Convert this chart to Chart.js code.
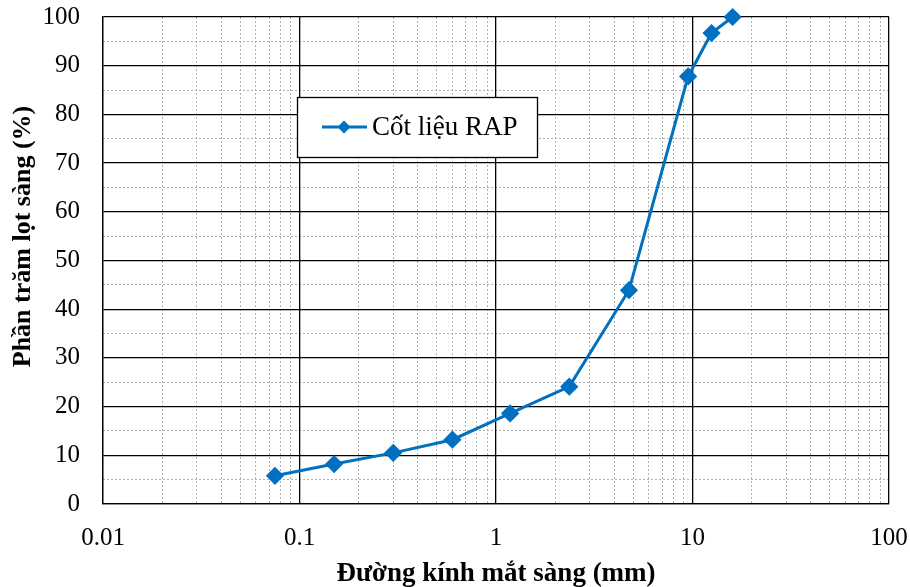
<!DOCTYPE html>
<html><head><meta charset="utf-8">
<script src="https://cdn.jsdelivr.net/npm/chart.js@4/dist/chart.umd.min.js"></script>
<style>html,body{margin:0;padding:0;background:#fff}#wrap{width:910px;height:587px}</style>
</head><body><div id="wrap"><canvas id="c" width="910" height="587"></canvas></div>
<script>
const sieveSizes = [0.075, 0.15, 0.3, 0.6, 1.18, 2.36, 4.75, 9.5, 12.5, 16];
const passingPct = [5.8, 8.2, 10.5, 13.2, 18.6, 24.1, 43.9, 87.8, 96.7, 100];
const xMajorTicks = [0.01, 0.1, 1, 10, 100];
const yMajorTicks = [0, 10, 20, 30, 40, 50, 60, 70, 80, 90, 100];
const seriesName = 'Cốt liệu RAP';
const xTitle = 'Đường kính mắt sàng (mm)';
const yTitle = 'Phần trăm lọt sàng (%)';

const xMinorTicks = [];
for (let i = 0; i < xMajorTicks.length - 1; i++) {
  for (let m = 2; m <= 9; m++) xMinorTicks.push(+(xMajorTicks[i] * m).toPrecision(6));
}
const yMinorTicks = yMajorTicks.slice(0, -1).map(v => v + 5);

const BLUE = '#0070C0';
const tickFont = {family: 'Liberation Serif', size: 25};
const titleFont = {family: 'Liberation Serif', size: 27, weight: 'bold', lineHeight: 1};

const legendBox = {
  id: 'legendBox',
  afterDatasetsDraw(chart) {
    const {ctx, chartArea: a} = chart;
    const l = a.left + 194, t = a.top + 80, w = 240, h = 60;
    ctx.save();
    ctx.fillStyle = '#fff';
    ctx.fillRect(l, t, w, h);
    ctx.strokeStyle = '#000';
    ctx.lineWidth = 1.3;
    ctx.strokeRect(l + 0.5, t + 0.5, w, h);
    const cy = t + h / 2;
    ctx.strokeStyle = BLUE; ctx.lineWidth = 3;
    ctx.beginPath(); ctx.moveTo(l + 25, cy); ctx.lineTo(l + 70, cy); ctx.stroke();
    ctx.fillStyle = BLUE;
    const mx = l + 47, r = 6.5;
    ctx.beginPath(); ctx.moveTo(mx, cy - r); ctx.lineTo(mx + r, cy); ctx.lineTo(mx, cy + r); ctx.lineTo(mx - r, cy); ctx.closePath(); ctx.fill();
    ctx.fillStyle = '#000';
    ctx.font = '27px "Liberation Serif"';
    ctx.textBaseline = 'middle';
    ctx.textAlign = 'left';
    ctx.fillText(seriesName, l + 75, cy + 1);
    ctx.restore();
  }
};

const yTitlePlugin = {
  id: 'yTitlePlugin',
  afterDraw(chart) {
    const {ctx, chartArea: a} = chart;
    ctx.save();
    ctx.translate(23, (a.top + a.bottom) / 2 - 24);
    ctx.rotate(-Math.PI / 2);
    ctx.fillStyle = '#000';
    ctx.font = 'bold 26px "Liberation Serif"';
    ctx.textAlign = 'center';
    ctx.textBaseline = 'middle';
    ctx.fillText(yTitle, 0, 0);
    ctx.restore();
  }
};

new Chart(document.getElementById('c'), {
  type: 'line',
  data: {
    datasets: [{
      label: seriesName,
      data: sieveSizes.map((x, i) => ({x, y: passingPct[i]})),
      borderColor: BLUE,
      backgroundColor: BLUE,
      borderWidth: 3,
      pointStyle: 'rectRot',
      pointRadius: 7,
      pointHoverRadius: 7,
      tension: 0,
      clip: false
    }]
  },
  options: {
    responsive: false,
    animation: false,
    events: [],
    layout: {padding: {left: 0, top: 17, right: 21, bottom: 0}},
    plugins: {legend: {display: false}, tooltip: {enabled: false}},
    scales: {
      xm: {
        type: 'logarithmic', position: 'bottom', min: 0.01, max: 100,
        afterBuildTicks: s => { s.ticks = xMinorTicks.map(v => ({value: v})); },
        afterFit: s => { s.height = 0; s.paddingLeft = 0; s.paddingRight = 0; },
        ticks: {display: false},
        border: {display: false, dash: [2, 2]},
        grid: {color: '#b0b0b0', lineWidth: 1, drawTicks: false, z: -1}
      },
      ym: {
        type: 'linear', position: 'left', min: 0, max: 100,
        afterBuildTicks: s => { s.ticks = yMinorTicks.map(v => ({value: v})); },
        afterFit: s => { s.width = 0; s.paddingTop = 0; s.paddingBottom = 0; },
        ticks: {display: false},
        border: {display: false, dash: [2, 2]},
        grid: {color: '#b0b0b0', lineWidth: 1, drawTicks: false, z: -1}
      },
      x: {
        type: 'logarithmic', position: 'bottom', min: 0.01, max: 100,
        afterBuildTicks: s => { s.ticks = xMajorTicks.map(v => ({value: v})); },
        afterFit: s => { s.height = 83; s.paddingLeft = 0; s.paddingRight = 0; },
        ticks: {autoSkip: false, maxRotation: 0, padding: 19, color: '#000', font: tickFont,
          callback: v => String(v)},
        border: {display: true, color: '#000', width: 1.3},
        grid: {color: '#000', lineWidth: 1.3, drawTicks: false},
        title: {display: true, text: xTitle, color: '#000', font: titleFont, padding: {top: 0, bottom: -1}}
      },
      y: {
        type: 'linear', position: 'left', min: 0, max: 100,
        afterBuildTicks: s => { s.ticks = yMajorTicks.map(v => ({value: v})); },
        afterFit: s => { s.width = 103; s.paddingTop = 0; s.paddingBottom = 0; },
        ticks: {autoSkip: false, padding: 23, color: '#000', font: tickFont},
        border: {display: true, color: '#000', width: 1.3},
        grid: {color: '#000', lineWidth: 1.3, drawTicks: false},
        title: {display: false}
      }
    }
  },
  plugins: [legendBox, yTitlePlugin]
});
</script></body></html>
